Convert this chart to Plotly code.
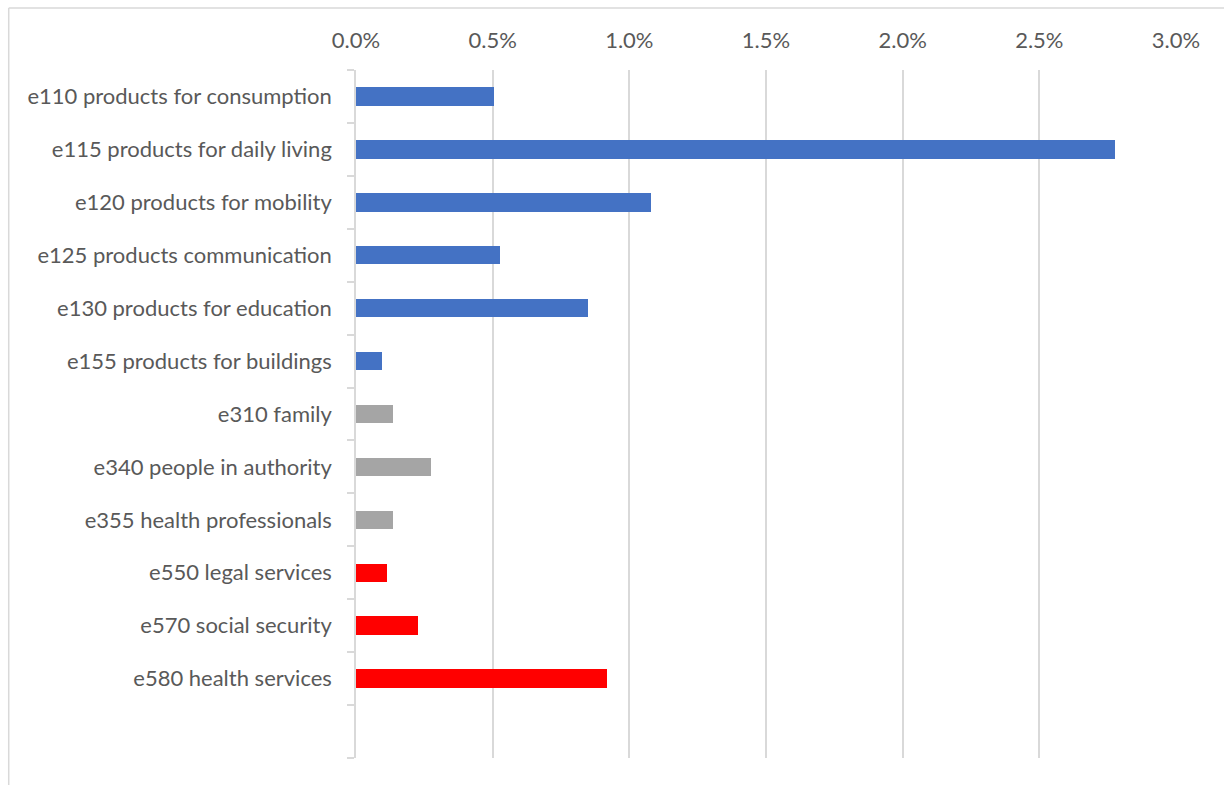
import plotly.graph_objects as go

# Environmental factors (ICF codes) and their share of responses
categories = [
    "e110 products for consumption",
    "e115 products for daily living",
    "e120 products for mobility",
    "e125 products communication",
    "e130 products for education",
    "e155 products for buildings",
    "e310 family",
    "e340 people in authority",
    "e355 health professionals",
    "e550 legal services",
    "e570 social security",
    "e580 health services",
]
values = [0.00505, 0.02778, 0.0108, 0.00525, 0.0085, 0.00095,
          0.00137, 0.00275, 0.00137, 0.00114, 0.00227, 0.00918]
groups = ["products"] * 6 + ["support"] * 3 + ["services"] * 3
group_colors = {"products": "#4472C4", "support": "#A5A5A5", "services": "#FF0000"}

W, H = 1224, 785
ML, MR, MT, MB = 355.5, 48, 70, 27
GRID = "#D9D9D9"
TEXT = "#595959"
FONT = "Lato"
FSIZE = 22

positions = list(range(len(categories)))
n_slots = len(categories) + 1  # one empty slot under the last bar

fig = go.Figure(
    go.Bar(
        x=values,
        y=positions,
        orientation="h",
        width=0.35,
        marker=dict(color=[group_colors[g] for g in groups], line=dict(width=0)),
        hoverinfo="x+text",
        text=categories,
        textposition="none",
    )
)

fig.update_layout(
    width=W,
    height=H,
    margin=dict(l=ML, r=MR, t=MT, b=MB, pad=0),
    paper_bgcolor="white",
    plot_bgcolor="white",
    showlegend=False,
    font=dict(family=FONT, size=FSIZE, color=TEXT),
    bargap=0,
)

fig.update_xaxes(
    side="top",
    range=[0, 0.03],
    tickmode="linear",
    tick0=0,
    dtick=0.005,
    tickformat=".1%",
    showgrid=True,
    gridcolor=GRID,
    gridwidth=1.5,
    zeroline=False,
    showline=False,
    ticks="outside",
    ticklen=12,
    tickcolor="rgba(0,0,0,0)",
    tickfont=dict(family=FONT, size=FSIZE, color=TEXT),
    fixedrange=True,
)

fig.update_yaxes(
    range=[n_slots - 0.5, -0.5],
    tickmode="array",
    tickvals=positions,
    ticktext=categories,
    ticks="",
    showgrid=False,
    zeroline=False,
    showline=True,
    linecolor=GRID,
    linewidth=1.5,
    tickfont=dict(family=FONT, size=FSIZE, color=TEXT),
    ticklabelstandoff=18,
    minor=dict(
        tickmode="array",
        tickvals=[i - 0.5 for i in range(n_slots + 1)],
        ticks="outside",
        ticklen=7,
        tickwidth=1.5,
        tickcolor=GRID,
        showgrid=False,
    ),
    fixedrange=True,
)

# Light chart-area frame along the top and left edges
pw = W - ML - MR
ph = H - MT - MB
fx = (8 - ML) / pw
fy = 1 + (MT - 8) / ph
fig.add_shape(type="line", xref="paper", yref="paper", x0=fx, x1=2, y0=fy, y1=fy,
              line=dict(color=GRID, width=1.5))
fig.add_shape(type="line", xref="paper", yref="paper", x0=fx, x1=fx, y0=fy, y1=-1,
              line=dict(color=GRID, width=1.5))

fig.write_html("out.html")
